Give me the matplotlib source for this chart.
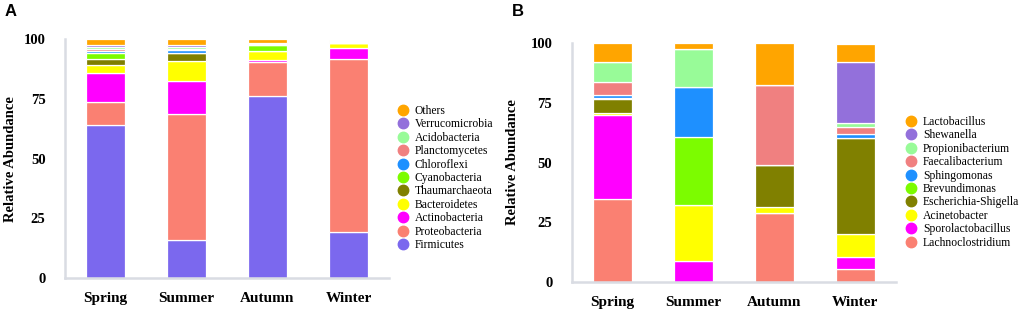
import matplotlib
matplotlib.use("Agg")
import matplotlib.pyplot as plt
from matplotlib.lines import Line2D
import numpy as np

seasons = ["Spring", "Summer", "Autumn", "Winter"]

# panel A: phyla, stacked bottom -> top
phyla = ["Firmicutes", "Proteobacteria", "Actinobacteria", "Bacteroidetes",
         "Thaumarchaeota", "Cyanobacteria", "Chloroflexi", "Planctomycetes",
         "Acidobacteria", "Verrucomicrobia", "Others"]
firmicutes      = [64.0, 15.9, 76.3, 19.2]
proteobacteria  = [10.0, 53.0, 14.1, 72.6]
actinobacteria  = [12.0, 13.7, 1.0, 4.6]
bacteroidetes   = [3.5, 8.4, 3.9, 2.0]
thaumarchaeota  = [2.3, 3.2, 0.0, 0.0]
cyanobacteria   = [2.5, 0.3, 2.4, 0.3]
chloroflexi     = [1.0, 0.9, 0.2, 0.0]
planctomycetes  = [0.7, 0.8, 0.2, 0.1]
acidobacteria   = [0.8, 0.8, 0.2, 0.4]
verrucomicrobia = [1.0, 0.8, 0.1, 0.0]
others_a        = [2.2, 2.2, 1.6, 0.8]

# panel B: genera, stacked bottom -> top
genera = ["Lachnoclostridium", "Sporolactobacillus", "Acinetobacter",
          "Escherichia-Shigella", "Brevundimonas", "Sphingomonas",
          "Faecalibacterium", "Propionibacterium", "Shewanella", "Lactobacillus"]
lachnoclostridium  = [34.6, 0.0, 28.8, 5.7]
sporolactobacillus = [35.2, 8.9, 0.0, 4.9]
acinetobacter      = [0.9, 23.4, 2.5, 9.6]
escherichia        = [5.7, 0.0, 17.7, 39.9]
brevundimonas      = [0.7, 28.5, 0.0, 0.3]
sphingomonas       = [1.2, 20.6, 0.0, 1.3]
faecalibacterium   = [5.3, 0.0, 33.2, 3.2]
propionibacterium  = [8.5, 15.8, 0.0, 1.6]
shewanella         = [0.0, 0.0, 0.0, 25.5]
lactobacillus      = [7.9, 2.8, 17.8, 7.5]

cols_a = ["#7B68EE", "#FA8072", "#FF00FF", "#FFFF00", "#808000", "#7CFC00",
          "#1E90FF", "#F08080", "#98FB98", "#9370DB", "#FFA500"]
cols_b = ["#FA8072", "#FF00FF", "#FFFF00", "#808000", "#7CFC00", "#1E90FF",
          "#F08080", "#98FB98", "#9370DB", "#FFA500"]

data_a = [firmicutes, proteobacteria, actinobacteria, bacteroidetes, thaumarchaeota,
          cyanobacteria, chloroflexi, planctomycetes, acidobacteria, verrucomicrobia, others_a]
data_b = [lachnoclostridium, sporolactobacillus, acinetobacter, escherichia, brevundimonas,
          sphingomonas, faecalibacterium, propionibacterium, shewanella, lactobacillus]

serif = "Liberation Serif"
W, H = 1021, 311
fig = plt.figure(figsize=(W / 100, H / 100), dpi=100)


def panel(left, right, bottom, top, data, names, cols, letter, leg_x, leg_y, ylpad):
    ax = fig.add_axes([left / W, 1 - bottom / H, (right - left) / W, (bottom - top) / H])
    x = np.arange(len(seasons))
    base = np.zeros(len(seasons))
    for vals, c in zip(data, cols):
        ax.bar(x, vals, 0.48, bottom=base, color=c, edgecolor="white", linewidth=0.9)
        base += np.array(vals)
    ax.set_xlim(-0.5, 3.5)
    ax.set_ylim(0, 100)
    ax.set_yticks([0, 25, 50, 75, 100])
    ax.set_xticks(x)
    ax.set_xticklabels(seasons, fontfamily=serif, fontweight="bold", fontsize=11)
    for t in ax.get_yticklabels():
        t.set_fontfamily(serif)
        t.set_fontweight("bold")
        t.set_fontsize(10.5)
    ax.tick_params(length=0)
    ax.tick_params(axis="y", pad=14)
    ax.tick_params(axis="x", pad=10)
    for s in ["top", "right"]:
        ax.spines[s].set_visible(False)
    for s in ["left", "bottom"]:
        ax.spines[s].set_color("#D9DCE3")
        ax.spines[s].set_linewidth(1.8)
    ax.set_ylabel("Relative Abundance", fontfamily=serif, fontweight="bold", fontsize=10.5, labelpad=ylpad)
    fig.text((left - 60) / W, 1 - 12 / H, letter, fontsize=12, fontweight="bold",
             fontfamily="Liberation Sans", va="center", ha="left")
    handles = [Line2D([], [], marker="o", linestyle="none", markersize=7.5,
                      markerfacecolor=c, markeredgecolor=c) for c in cols[::-1]]
    fig.legend(handles, names[::-1], loc="upper left",
               bbox_to_anchor=(leg_x / W, 1 - leg_y / H), frameon=False,
               prop={"family": serif, "size": 8.4}, labelspacing=0.12,
               handlelength=0.8, handletextpad=0.65, borderpad=0, borderaxespad=0)
    return ax


panel(65, 389, 278, 39.5, data_a, phyla, cols_a, "A", 398, 105, 5)
panel(571.7, 896, 282.3, 42.7, data_b, genera, cols_b, "B", 906, 116, 8)

fig.savefig("out.png", dpi=100)
